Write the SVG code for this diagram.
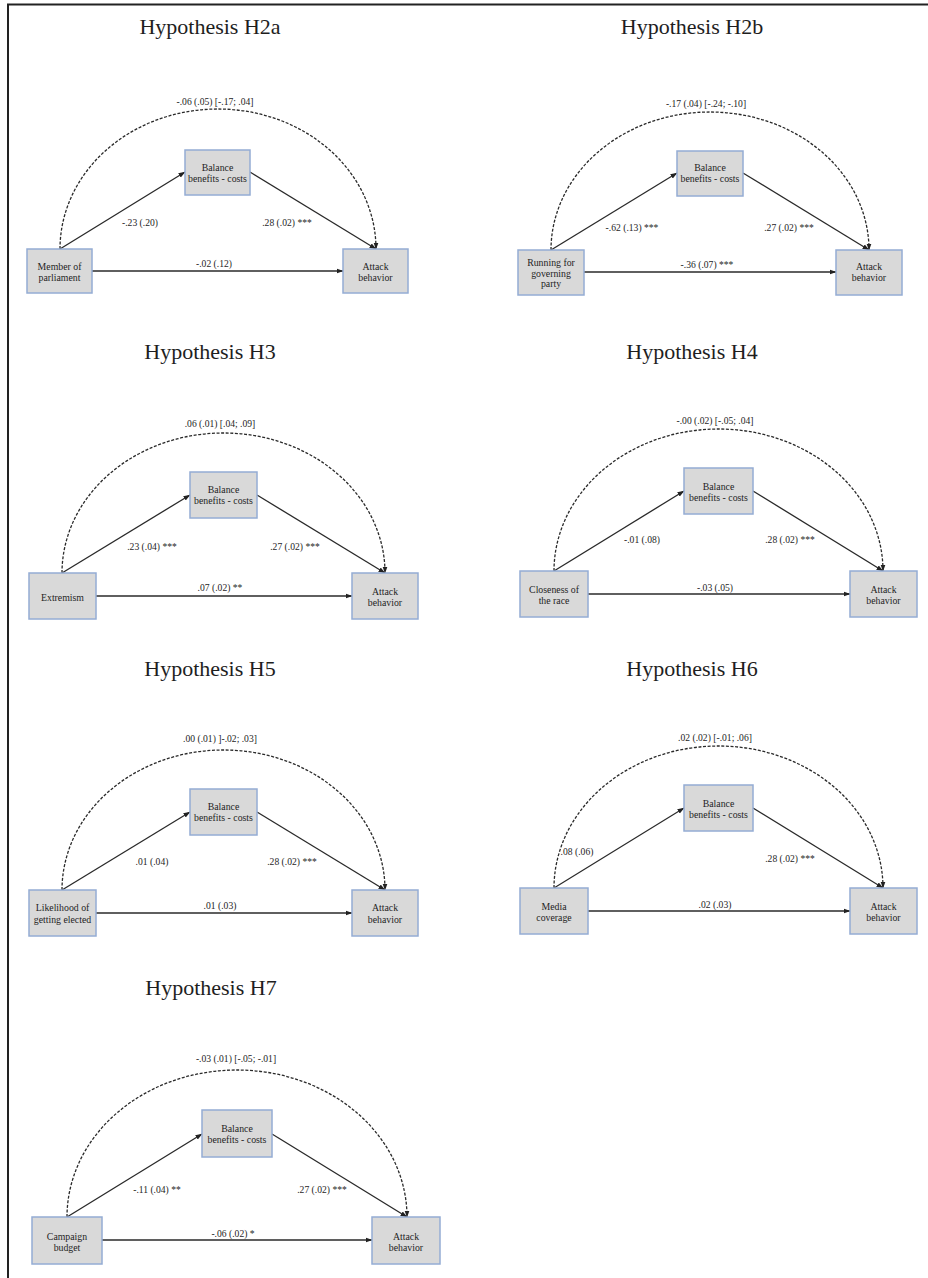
<svg xmlns="http://www.w3.org/2000/svg" width="928" height="1278" viewBox="0 0 928 1278">
<defs>
<marker id="ah" markerUnits="userSpaceOnUse" markerWidth="7" markerHeight="6" refX="6.5" refY="3" orient="auto">
<path d="M0,0.5 L7,3 L0,5.5 z" fill="#222"/>
</marker>
<style>
.frame{stroke:#222;stroke-width:2;fill:none}
.box{fill:#d9d9d9;stroke:#94acd4;stroke-width:1.5}
.ln{stroke:#2a2a2a;stroke-width:1.3;fill:none;marker-end:url(#ah)}
.arc{stroke:#2a2a2a;stroke-width:1.3;fill:none;stroke-dasharray:3 1.6;marker-end:url(#ah)}
.t{font-family:"Liberation Serif","Times New Roman",serif;fill:#1e1e1e;text-anchor:middle}
.title{font-size:22px}
.bx{font-size:9.8px}
.lb{font-size:9.6px}
</style>
</defs>
<path class="frame" d="M8,1278 V4.5 H928"/>

<!-- H2a -->
<text class="t title" x="210" y="34">Hypothesis H2a</text>
<g id="h2a-connectors">
<path class="arc" d="M60,249 A158,140 0 0 1 376,249"/>
<path class="ln" d="M60,249 L185,172"/>
<path class="ln" d="M250,172 L376,249"/>
<path class="ln" d="M92,271 L343,271"/>
<text class="t lb" x="215" y="104.5">-.06 (.05) [-.17; .04]</text>
<text class="t lb" x="140" y="225.5">-.23 (.20)</text>
<text class="t lb" x="287" y="225.5">.28 (.02) ***</text>
<text class="t lb" x="214" y="267">-.02 (.12)</text>
</g>
<g id="h2a-x"><rect class="box" x="27" y="249" width="65" height="44"/><text class="t bx" x="59.5" y="269.5">Member of</text><text class="t bx" x="59.5" y="280.5">parliament</text></g>
<g id="h2a-m"><rect class="box" x="185" y="150" width="65" height="45"/><text class="t bx" x="217.5" y="171">Balance</text><text class="t bx" x="217.5" y="182">benefits - costs</text></g>
<g id="h2a-y"><rect class="box" x="343" y="249" width="65" height="44"/><text class="t bx" x="375.5" y="269.5">Attack</text><text class="t bx" x="375.5" y="280.5">behavior</text></g>

<!-- H2b -->
<text class="t title" x="692" y="34">Hypothesis H2b</text>
<g id="h2b-connectors">
<path class="arc" d="M551,250 A159,138 0 0 1 869,250"/>
<path class="ln" d="M551,250 L677,173"/>
<path class="ln" d="M743,173 L869,250"/>
<path class="ln" d="M584,272 L836,272"/>
<text class="t lb" x="706" y="106.5">-.17 (.04) [-.24; -.10]</text>
<text class="t lb" x="632" y="230.5">-.62 (.13) ***</text>
<text class="t lb" x="789" y="230.5">.27 (.02) ***</text>
<text class="t lb" x="707" y="268">-.36 (.07) ***</text>
</g>
<g id="h2b-x"><rect class="box" x="518" y="250" width="66" height="45"/><text class="t bx" x="551" y="266">Running for</text><text class="t bx" x="551" y="276.5">governing</text><text class="t bx" x="551" y="287">party</text></g>
<g id="h2b-m"><rect class="box" x="677" y="151" width="66" height="45"/><text class="t bx" x="710" y="171">Balance</text><text class="t bx" x="710" y="182">benefits - costs</text></g>
<g id="h2b-y"><rect class="box" x="836" y="250" width="66" height="45"/><text class="t bx" x="869" y="270">Attack</text><text class="t bx" x="869" y="281">behavior</text></g>

<!-- H3 -->
<text class="t title" x="210" y="359">Hypothesis H3</text>
<g id="h3-connectors">
<path class="arc" d="M62,573 A161.5,140 0 0 1 385,573"/>
<path class="ln" d="M62,573 L190,495"/>
<path class="ln" d="M257,495 L385,573"/>
<path class="ln" d="M96,596 L352,596"/>
<text class="t lb" x="220" y="426.5">.06 (.01) [.04; .09]</text>
<text class="t lb" x="152" y="549.5">.23 (.04) ***</text>
<text class="t lb" x="295" y="549.5">.27 (.02) ***</text>
<text class="t lb" x="220" y="591">.07 (.02) **</text>
</g>
<g id="h3-x"><rect class="box" x="29" y="573" width="67" height="46"/><text class="t bx" x="62.5" y="600.5">Extremism</text></g>
<g id="h3-m"><rect class="box" x="190" y="472" width="67" height="46"/><text class="t bx" x="223.5" y="492.5">Balance</text><text class="t bx" x="223.5" y="503.5">benefits - costs</text></g>
<g id="h3-y"><rect class="box" x="352" y="573" width="66" height="46"/><text class="t bx" x="385" y="594.5">Attack</text><text class="t bx" x="385" y="605.5">behavior</text></g>

<!-- H4 -->
<text class="t title" x="692" y="359">Hypothesis H4</text>
<g id="h4-connectors">
<path class="arc" d="M554,571 A164.5,142 0 0 1 883,571"/>
<path class="ln" d="M554,571 L684,491"/>
<path class="ln" d="M753,491 L883,571"/>
<path class="ln" d="M588,594 L850,594"/>
<text class="t lb" x="715" y="423.5">-.00 (.02) [-.05; .04]</text>
<text class="t lb" x="642" y="542.5">-.01 (.08)</text>
<text class="t lb" x="790" y="542.5">.28 (.02) ***</text>
<text class="t lb" x="715" y="591">-.03 (.05)</text>
</g>
<g id="h4-x"><rect class="box" x="520" y="571" width="68" height="46"/><text class="t bx" x="554" y="592.5">Closeness of</text><text class="t bx" x="554" y="604">the race</text></g>
<g id="h4-m"><rect class="box" x="684" y="468" width="69" height="46"/><text class="t bx" x="718.5" y="489.5">Balance</text><text class="t bx" x="718.5" y="501">benefits - costs</text></g>
<g id="h4-y"><rect class="box" x="850" y="571" width="67" height="46"/><text class="t bx" x="883.5" y="592.5">Attack</text><text class="t bx" x="883.5" y="604">behavior</text></g>

<!-- H5 -->
<text class="t title" x="210" y="676">Hypothesis H5</text>
<g id="h5-connectors">
<path class="arc" d="M62,890 A161.5,140 0 0 1 385,890"/>
<path class="ln" d="M62,890 L190,812"/>
<path class="ln" d="M257,812 L385,890"/>
<path class="ln" d="M96,913 L352,913"/>
<text class="t lb" x="220" y="742">.00 (.01) ]-.02; .03]</text>
<text class="t lb" x="152" y="865">.01 (.04)</text>
<text class="t lb" x="292" y="865">.28 (.02) ***</text>
<text class="t lb" x="220" y="908.5">.01 (.03)</text>
</g>
<g id="h5-x"><rect class="box" x="29" y="890" width="67" height="46"/><text class="t bx" x="62.5" y="911">Likelihood of</text><text class="t bx" x="62.5" y="922.5">getting elected</text></g>
<g id="h5-m"><rect class="box" x="190" y="789" width="67" height="46"/><text class="t bx" x="223.5" y="809.5">Balance</text><text class="t bx" x="223.5" y="820.5">benefits - costs</text></g>
<g id="h5-y"><rect class="box" x="352" y="890" width="66" height="46"/><text class="t bx" x="385" y="911">Attack</text><text class="t bx" x="385" y="922.5">behavior</text></g>

<!-- H6 -->
<text class="t title" x="692" y="676">Hypothesis H6</text>
<g id="h6-connectors">
<path class="arc" d="M554,888 A164.5,142 0 0 1 883,888"/>
<path class="ln" d="M554,888 L684,808"/>
<path class="ln" d="M753,808 L883,888"/>
<path class="ln" d="M588,911 L850,911"/>
<text class="t lb" x="715" y="740.5">.02 (.02) [-.01; .06]</text>
<text class="t lb" x="577" y="854.5">.08 (.06)</text>
<text class="t lb" x="790" y="862">.28 (.02) ***</text>
<text class="t lb" x="715" y="908">.02 (.03)</text>
</g>
<g id="h6-x"><rect class="box" x="520" y="888" width="68" height="46"/><text class="t bx" x="554" y="909.5">Media</text><text class="t bx" x="554" y="921">coverage</text></g>
<g id="h6-m"><rect class="box" x="684" y="785" width="69" height="46"/><text class="t bx" x="718.5" y="806.5">Balance</text><text class="t bx" x="718.5" y="818">benefits - costs</text></g>
<g id="h6-y"><rect class="box" x="850" y="888" width="67" height="46"/><text class="t bx" x="883.5" y="909.5">Attack</text><text class="t bx" x="883.5" y="921">behavior</text></g>

<!-- H7 -->
<text class="t title" x="211" y="995">Hypothesis H7</text>
<g id="h7-connectors">
<path class="arc" d="M67,1217 A170,147 0 0 1 407,1217"/>
<path class="ln" d="M67,1217 L202,1134"/>
<path class="ln" d="M272,1134 L407,1217"/>
<path class="ln" d="M102,1240 L372,1240"/>
<text class="t lb" x="236" y="1061.5">-.03 (.01) [-.05; -.01]</text>
<text class="t lb" x="157" y="1192.5">-.11 (.04) **</text>
<text class="t lb" x="322" y="1192.5">.27 (.02) ***</text>
<text class="t lb" x="233" y="1236.5">-.06 (.02) *</text>
</g>
<g id="h7-x"><rect class="box" x="32" y="1217" width="70" height="47"/><text class="t bx" x="67" y="1239.5">Campaign</text><text class="t bx" x="67" y="1250.5">budget</text></g>
<g id="h7-m"><rect class="box" x="202" y="1110" width="70" height="47"/><text class="t bx" x="237" y="1131.5">Balance</text><text class="t bx" x="237" y="1142.5">benefits - costs</text></g>
<g id="h7-y"><rect class="box" x="372" y="1217" width="68" height="47"/><text class="t bx" x="406" y="1239.5">Attack</text><text class="t bx" x="406" y="1250.5">behavior</text></g>
</svg>
